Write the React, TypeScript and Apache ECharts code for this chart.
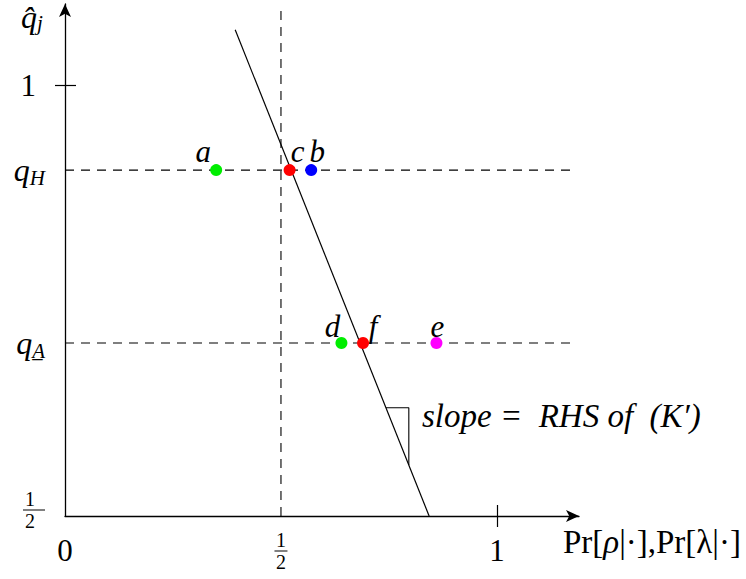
import React, { useEffect, useRef } from 'react';
import * as echarts from 'echarts';

// Axis extents (x: probability, y: quality level)
const X_MIN = 0;
const X_MAX = 1.19;
const Y_MIN = 0.5;
const Y_MAX = 1.095;

// Quality levels on the vertical axis
const Q_H = 0.902;
const Q_A = 0.701;

const X_TICK_VALUES = [0, 0.5, 1];
const Y_TICK_VALUES = [0.5, Q_A, Q_H, 1];

// Labelled points
const POINT_NAMES = ['a', 'c', 'b', 'd', 'f', 'e'];
const POINT_X = [0.35, 0.52, 0.57, 0.64, 0.69, 0.86];
const POINT_Y = [Q_H, Q_H, Q_H, Q_A, Q_A, Q_A];

// Downward-sloping boundary line
const BOUNDARY_X = [0.394, 0.843];
const BOUNDARY_Y = [1.065, 0.5];

// x-range covered by the little slope triangle
const SLOPE_X = [0.743, 0.796];

// Dashed guide lines
const GUIDE_X = 0.5;
const GUIDE_X_END = 1.18;

// styling
const POINT_COLORS = ['#00ee00', '#ff0000', '#0000ff', '#00ee00', '#ff0000', '#ff00ff'];
const LABEL_OFFSETS: [number, number][] = [[-13, -19], [8, -19], [6, -19], [-9, -17], [10, -17], [1, -17]];
const SERIF = "'Liberation Serif', 'DejaVu Serif', serif";
const DASH = [9, 7];
const MAIN_SIZE = 32;
const SUB_SIZE = 21;
const FRAC_SIZE = 20;

const lineY = (x: number) =>
  BOUNDARY_Y[0] + ((BOUNDARY_Y[1] - BOUNDARY_Y[0]) / (BOUNDARY_X[1] - BOUNDARY_X[0])) * (x - BOUNDARY_X[0]);

const fracRich = {
  num: { fontSize: FRAC_SIZE, fontFamily: SERIF, width: 14, align: 'center', lineHeight: 16, color: '#000' },
  bar: { fontSize: 1, width: 13, height: 1, lineHeight: 6, backgroundColor: '#000' },
  den: { fontSize: FRAC_SIZE, fontFamily: SERIF, width: 14, align: 'center', lineHeight: 16, color: '#000' },
};
const FRAC = '{num|1}\n{bar| }\n{den|2}';
// the vertical-axis half sits a little above its tick, so it carries an empty trailing line
const FRAC_Y = '{num|1}\n{bar| }\n{den|2}\n{sp| }';

export default function App() {
  const ref = useRef<HTMLDivElement>(null);

  useEffect(() => {
    if (!ref.current) return;
    const chart = echarts.init(ref.current, undefined, { renderer: 'svg' });

    const triTop = lineY(SLOPE_X[0]);
    const triBottom = lineY(SLOPE_X[1]);

    const option: any = {
      animation: false,
      backgroundColor: '#fff',
      textStyle: { fontFamily: SERIF },
      grid: { left: 65, right: 167, top: 4, bottom: 63 },
      xAxis: [
        {
          type: 'value',
          min: X_MIN,
          max: X_MAX,
          splitLine: { show: false },
          axisLine: {
            onZero: false,
            symbol: ['none', 'arrow'],
            symbolSize: [9, 13],
            lineStyle: { color: '#000', width: 1.3 },
          },
          axisTick: { customValues: [1], length: 11, lineStyle: { color: '#000', width: 1.2 } },
          axisLabel: {
            customValues: X_TICK_VALUES,
            margin: 16,
            color: '#000',
            fontFamily: SERIF,
            fontSize: 31,
            formatter: (v: number) => (Math.abs(v - 0.5) < 1e-6 ? FRAC : `{d|${v}}`),
            rich: {
              ...fracRich,
              d: { fontSize: 31, fontFamily: SERIF, color: '#000', padding: [3, 0, 0, 0] },
            },
          },
        },
        {
          type: 'value',
          min: X_MIN,
          max: X_MAX,
          position: 'bottom',
          splitLine: { show: false },
          axisLine: { show: false },
          axisLabel: { show: false },
          axisTick: { customValues: [1], inside: true, length: 11, lineStyle: { color: '#000', width: 1.2 } },
        },
      ],
      yAxis: [
        {
          type: 'value',
          min: Y_MIN,
          max: Y_MAX,
          splitLine: { show: false },
          axisLine: {
            onZero: false,
            symbol: ['none', 'arrow'],
            symbolSize: [9, 13],
            lineStyle: { color: '#000', width: 1.3 },
          },
          axisTick: { customValues: [1], length: 10, lineStyle: { color: '#000', width: 1.2 } },
          axisLabel: {
            customValues: Y_TICK_VALUES,
            margin: 20,
            color: '#000',
            fontFamily: SERIF,
            fontSize: 31,
            formatter: (v: number) => {
              if (Math.abs(v - 0.5) < 1e-6) return FRAC_Y;
              if (Math.abs(v - Q_H) < 1e-6) return '{q|q}{s|H}';
              if (Math.abs(v - Q_A) < 1e-6) return '{q|q}{s|A\u0332}';
              return `{d|${v}}`;
            },
            rich: {
              num: { ...fracRich.num, padding: [0, 8, 0, 0] },
              bar: { ...fracRich.bar, padding: [0, 9, 0, 0] },
              den: { ...fracRich.den, padding: [0, 8, 0, 0] },
              sp: { fontSize: 1, lineHeight: 12, width: 13, padding: [0, 9, 0, 0] },
              d: { fontSize: 31, fontFamily: SERIF, color: '#000', padding: [0, 9, 0, 0] },
              q: { fontSize: MAIN_SIZE, fontStyle: 'italic', fontFamily: SERIF, lineHeight: 36, color: '#000' },
              s: {
                fontSize: SUB_SIZE,
                fontStyle: 'italic',
                fontFamily: SERIF,
                lineHeight: 20,
                verticalAlign: 'bottom',
                color: '#000',
              },
            },
          },
        },
        {
          type: 'value',
          min: Y_MIN,
          max: Y_MAX,
          position: 'left',
          splitLine: { show: false },
          axisLine: { show: false },
          axisLabel: { show: false },
          axisTick: { customValues: [1], inside: true, length: 11, lineStyle: { color: '#000', width: 1.2 } },
        },
      ],
      series: [
        {
          name: 'guide-x',
          type: 'line',
          data: [
            [GUIDE_X, Y_MIN],
            [GUIDE_X, Y_MAX],
          ],
          symbol: 'none',
          lineStyle: { color: '#000', width: 1.1, type: DASH },
          z: 1,
        },
        {
          name: 'guide-qH',
          type: 'line',
          data: [
            [X_MIN, Q_H],
            [GUIDE_X_END, Q_H],
          ],
          symbol: 'none',
          lineStyle: { color: '#000', width: 1.1, type: DASH },
          z: 1,
        },
        {
          name: 'guide-qA',
          type: 'line',
          data: [
            [X_MIN, Q_A],
            [GUIDE_X_END, Q_A],
          ],
          symbol: 'none',
          lineStyle: { color: '#000', width: 1.1, type: DASH },
          z: 1,
        },
        {
          name: 'boundary',
          type: 'line',
          data: BOUNDARY_X.map((x, i) => [x, BOUNDARY_Y[i]]),
          symbol: 'none',
          lineStyle: { color: '#000', width: 1.2 },
          z: 2,
        },
        {
          name: 'slope',
          type: 'line',
          data: [
            [SLOPE_X[0], triTop],
            [SLOPE_X[1], triTop],
            [SLOPE_X[1], triBottom],
          ],
          symbol: 'none',
          lineStyle: { color: '#000', width: 1.1 },
          z: 2,
        },
        {
          name: 'points',
          type: 'scatter',
          symbolSize: 12,
          z: 3,
          data: POINT_NAMES.map((n, i) => ({
            name: n,
            value: [POINT_X[i], POINT_Y[i]],
            itemStyle: { color: POINT_COLORS[i], opacity: 1 },
            label: { offset: LABEL_OFFSETS[i] },
          })),
          label: {
            show: true,
            position: 'inside',
            formatter: '{b}',
            color: '#000',
            fontFamily: SERIF,
            fontStyle: 'italic',
            fontSize: 31,
          },
        },
      ],
      graphic: [
        {
          type: 'text',
          left: 21,
          top: 1,
          style: {
            text: '{q|q\u0302}{s|j}',
            rich: {
              q: { fontSize: MAIN_SIZE, fontStyle: 'italic', fontFamily: SERIF, lineHeight: 32, fill: '#000', color: '#000' },
              s: {
                fontSize: SUB_SIZE,
                fontStyle: 'italic',
                fontFamily: SERIF,
                lineHeight: 20,
                verticalAlign: 'bottom',
                fill: '#000',
                color: '#000',
              },
            },
          },
        },
        {
          type: 'text',
          x: 422,
          y: 416,
          style: {
            text: 'slope =\u2002RHS of\u2002(K\u2032)',
            fontFamily: SERIF,
            fontStyle: 'italic',
            fontSize: 33,
            fill: '#000',
            verticalAlign: 'middle',
          },
        },
        {
          type: 'text',
          x: 563,
          y: 542,
          style: {
            text: '{r|Pr[}{i|\u03c1}{r||\u00b7],Pr[}{r|\u03bb|\u00b7]}',
            verticalAlign: 'middle',
            rich: {
              r: { fontSize: 33, fontFamily: SERIF, fill: '#000', color: '#000' },
              i: { fontSize: 33, fontFamily: SERIF, fontStyle: 'italic', fill: '#000', color: '#000' },
            },
          },
        },
      ],
    };

    chart.setOption(option);
    return () => chart.dispose();
  }, []);

  return (
    <div
      ref={ref}
      style={{ position: 'fixed', left: 0, top: 0, width: 746, height: 579, background: '#fff' }}
    />
  );
}
